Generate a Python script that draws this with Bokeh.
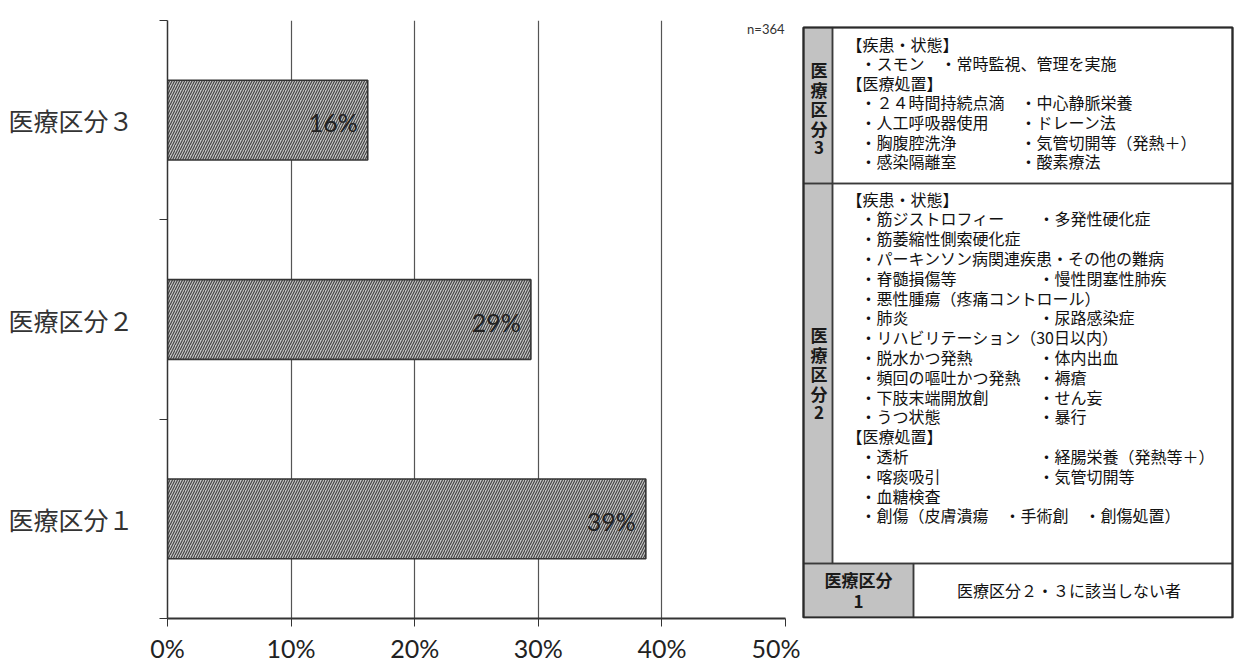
from bokeh.plotting import figure
from bokeh.models import Range1d, FixedTicker, Label
from bokeh.layouts import row
from bokeh.embed import file_html
from bokeh.resources import INLINE
from bokeh.core.properties import value

# ---------------- data ----------------
categories = ["医療区分１", "医療区分２", "医療区分３"]
shares = [38.7, 29.4, 16.2]
x_ticks = [0, 10, 20, 30, 40, 50]
x_tick_labels = ["0%", "10%", "20%", "30%", "40%", "50%"]
sample_note = "n=364"

kubun3_head = "医療区分3"
kubun3_lines = [
    ("h", "【疾患・状態】", ""),
    ("b", "・スモン　・常時監視、管理を実施", ""),
    ("h", "【医療処置】", ""),
    ("b", "・２４時間持続点滴", "・中心静脈栄養"),
    ("b", "・人工呼吸器使用", "・ドレーン法"),
    ("b", "・胸腹腔洗浄", "・気管切開等（発熱＋）"),
    ("b", "・感染隔離室", "・酸素療法"),
]
kubun2_head = "医療区分2"
kubun2_lines = [
    ("h", "【疾患・状態】", ""),
    ("b", "・筋ジストロフィー", "・多発性硬化症"),
    ("b", "・筋萎縮性側索硬化症", ""),
    ("b", "・パーキンソン病関連疾患・その他の難病", ""),
    ("b", "・脊髄損傷等", "・慢性閉塞性肺疾"),
    ("b", "・悪性腫瘍（疼痛コントロール）", ""),
    ("b", "・肺炎", "・尿路感染症"),
    ("b", "・リハビリテーション（30日以内）", ""),
    ("b", "・脱水かつ発熱", "・体内出血"),
    ("b", "・頻回の嘔吐かつ発熱", "・褥瘡"),
    ("b", "・下肢末端開放創", "・せん妄"),
    ("b", "・うつ状態", "・暴行"),
    ("h", "【医療処置】", ""),
    ("b", "・透析", "・経腸栄養（発熱等＋）"),
    ("b", "・喀痰吸引", "・気管切開等"),
    ("b", "・血糖検査", ""),
    ("b", "・創傷（皮膚潰瘍　・手術創　・創傷処置）", ""),
]
kubun1_head = ["医療区分", "1"]
kubun1_text = "医療区分２・３に該当しない者"

# ---------------- bar chart ----------------
BG = "#ffffff"
INK = "#333333"
CJK = "Noto Sans CJK JP"
TOP, BOTTOM = 20, 54

p = figure(width=800, height=672, x_range=Range1d(0, 50), y_range=Range1d(0, 3),
           toolbar_location=None, output_backend="svg",
           min_border_left=167, min_border_right=15,
           min_border_top=TOP, min_border_bottom=BOTTOM)
p.background_fill_color = BG
p.border_fill_color = BG
p.outline_line_color = None

ys = [i + 0.5 for i in range(len(categories))]
p.hbar(y=ys, right=shares, left=0, height=0.4,
       fill_color="#c4c4c4", line_color="#333333", line_width=1.6,
       hatch_pattern="right_diagonal_line", hatch_color="#3f3f3f",
       hatch_weight=1.1, hatch_scale=5)
p.text(x=shares, y=ys, text=[f"{round(v)}%" for v in shares],
       x_offset=-10, y_offset=2, text_align="right", text_baseline="middle",
       text_font=value("Lato"), text_font_size="25px", text_color="#222222")

# x axis
p.xaxis.ticker = FixedTicker(ticks=x_ticks)
p.xaxis.major_label_overrides = dict(zip(x_ticks, x_tick_labels))
p.xaxis.major_label_text_font = "Lato"
p.xaxis.major_label_text_font_size = "25px"
p.xaxis.major_label_text_color = "#222222"
p.xaxis.major_label_standoff = 6
p.xaxis.axis_line_color = INK
p.xaxis.axis_line_width = 2
p.xaxis.major_tick_out = 8
p.xaxis.major_tick_in = 0
p.xaxis.major_tick_line_color = INK

# y axis (labels at band centres, ticks at band edges)
p.yaxis.ticker = FixedTicker(ticks=ys, minor_ticks=[0, 1, 2, 3])
p.yaxis.major_label_overrides = dict(zip(ys, categories))
p.yaxis.major_label_text_font = CJK
p.yaxis.major_label_text_font_size = "25px"
p.yaxis.major_label_text_color = "#333333"
p.yaxis.major_label_standoff = 26
p.yaxis.major_tick_out = 0
p.yaxis.major_tick_in = 0
p.yaxis.minor_tick_out = 8
p.yaxis.minor_tick_in = 0
p.yaxis.minor_tick_line_color = INK
p.yaxis.axis_line_color = INK
p.yaxis.axis_line_width = 1.5

p.xgrid.ticker = FixedTicker(ticks=x_ticks)
p.xgrid.grid_line_color = "#555555"
p.xgrid.grid_line_width = 1.2
p.ygrid.visible = False

p.add_layout(Label(x=50, y=3, x_offset=-1, y_offset=-8, text=sample_note,
                   text_align="right", text_baseline="middle",
                   text_font="Lato", text_font_size="13px", text_color=INK))

# ---------------- table ----------------
# frame of this figure is aligned with the bar chart's frame (page y 20..618),
# so the y range is set to page pixel rows.
t = figure(width=436, height=672, x_range=Range1d(800, 1236),
           y_range=Range1d(672 - BOTTOM, TOP),
           toolbar_location=None, output_backend="svg", min_border=0,
           min_border_top=TOP, min_border_bottom=BOTTOM,
           x_axis_location=None, y_axis_location=None)
t.background_fill_color = BG
t.border_fill_color = BG
t.outline_line_color = None
t.grid.visible = False

L, C, C1, R = 803, 832, 913, 1232
T, B3, B2, B = 27, 183, 563, 617
GRAY = "#c2c2c2"

# gray header cells
t.quad(left=[L, L, L], right=[C, C, C1], top=[T, B3, B2], bottom=[B3, B2, B],
       fill_color=GRAY, line_color=None)
# cell borders
t.quad(left=[L, C, L, C, L, C1], right=[C, R, C, R, C1, R],
       top=[T, T, B3, B3, B2, B2], bottom=[B3, B3, B2, B2, B, B],
       fill_color=None, line_color="#3a3a3a", line_width=1.5)
t.quad(left=[L], right=[R], top=[T], bottom=[B], fill_color=None,
       line_color="#2a2a2a", line_width=2.2)

FS = "16px"
tx, ty, tt = [], [], []


def add_lines(lines, y0, dy, col2_x):
    for i, (kind, a, b) in enumerate(lines):
        y = y0 + i * dy
        tx.append(846 if kind == "h" else 860)
        ty.append(y)
        tt.append(a)
        if b:
            tx.append(col2_x)
            ty.append(y)
            tt.append(b)


add_lines(kubun3_lines, 43, 19.6, 1020)
add_lines(kubun2_lines, 198, 19.8, 1038)
t.text(x=tx, y=ty, text=tt, text_baseline="middle", text_align="left",
       text_font=value(CJK), text_font_size=FS, text_color="#111111")

# vertical headers
vx, vy, vt = [], [], []
for head, (top, bot), shift in [(kubun3_head, (T, B3), 3), (kubun2_head, (B3, B2), 0)]:
    mid = (top + bot) / 2 + shift
    n = len(head)
    for k, ch in enumerate(head):
        vx.append((L + C) / 2 + 1)
        vy.append(mid + (k - (n - 1) / 2) * 19.5)
        vt.append(ch)
hx = [(L + C1) / 2] * len(kubun1_head)
hy = [579, 601]
t.text(x=vx + hx, y=vy + hy, text=vt + kubun1_head, text_baseline="middle",
       text_align="center", text_font=value(CJK), text_font_size="17px",
       text_font_style="bold", text_color="#1a1a1a")
t.text(x=[(C1 + R) / 2 - 4], y=[589], text=[kubun1_text], text_baseline="middle",
       text_align="center", text_font=value(CJK), text_font_size=FS,
       text_color="#111111")

layout = row(p, t)
open("out.html", "w").write(file_html(layout, INLINE))
